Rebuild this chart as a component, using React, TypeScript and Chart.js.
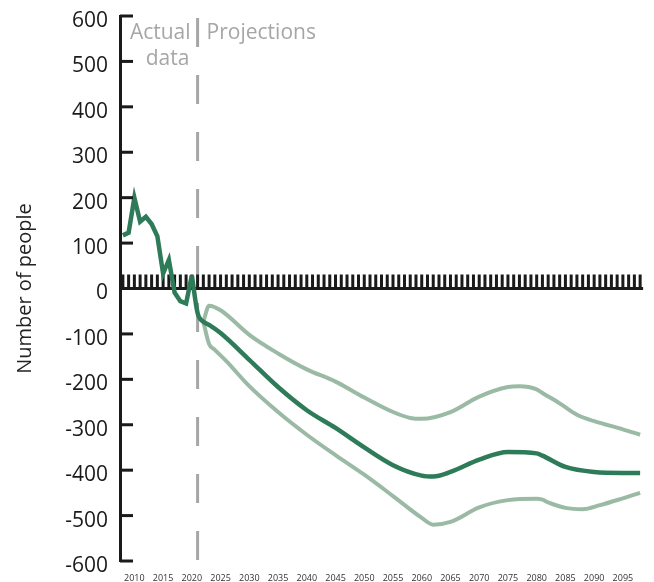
import React, { useEffect, useRef } from "react";
import { Chart, registerables } from "chart.js";

Chart.register(...registerables);

// Recorded net change, 2008–2020
const actualYears = [2008, 2009, 2010, 2011, 2012, 2013, 2014, 2015, 2016, 2017, 2018, 2019, 2020];
const actualValues = [117, 123, 200, 147, 158, 142, 115, 33, 63, -9, -28, -33, 29];

// Central projection (joins the recorded series at 2020)
const centralYears = [2020, 2021, 2022, 2023, 2025, 2030, 2035, 2040, 2045, 2050, 2055, 2060, 2062, 2065, 2070, 2075, 2080, 2081, 2085, 2090, 2095, 2098];
const centralValues = [29, -54, -73, -80, -98, -157, -217, -268, -307, -350, -389, -412, -414, -404, -377, -360, -363, -368, -393, -404, -406, -406];

// High variant
const upperYears = [2022, 2023, 2025, 2030, 2035, 2040, 2045, 2050, 2055, 2058, 2060, 2065, 2070, 2075, 2077, 2080, 2081, 2084, 2087, 2090, 2095, 2098];
const upperValues = [-73, -38, -48, -102, -143, -178, -205, -240, -272, -285, -287, -272, -238, -217, -215, -222, -230, -253, -278, -292, -310, -322];

// Low variant
const lowerYears = [2022, 2023, 2024, 2026, 2030, 2035, 2040, 2045, 2050, 2055, 2060, 2062, 2065, 2070, 2075, 2080, 2081, 2082, 2085, 2088, 2091, 2095, 2098];
const lowerValues = [-73, -122, -135, -160, -215, -272, -322, -367, -410, -457, -505, -520, -514, -482, -466, -463, -465, -471, -483, -486, -477, -462, -450];

const xTickLabels = [2010, 2015, 2020, 2025, 2030, 2035, 2040, 2045, 2050, 2055, 2060, 2065, 2070, 2075, 2080, 2085, 2090, 2095];
const dividerYear = 2021;

const FONT = '"Open Sans", "DejaVu Sans", sans-serif';
const DARK_GREEN = "#2d7b58";
const LIGHT_GREEN = "#9bbaa5";
const GREY = "#a6a6a6";
const INK = "#1a1a1a";

const toPoints = (xs: number[], ys: number[]) => xs.map((x, i) => ({ x, y: ys[i] }));

const overlayPlugin = {
  id: "overlay",
  beforeDatasetsDraw(chart: any) {
    const { ctx, chartArea, scales } = chart;
    const x = scales.x;
    const y = scales.y;
    const y0 = y.getPixelForValue(0);
    ctx.save();
    // divider between recorded data and projections
    const xd = x.getPixelForValue(dividerYear);
    ctx.strokeStyle = GREY;
    ctx.lineWidth = 3;
    ctx.setLineDash([29, 28]);
    ctx.beginPath();
    ctx.moveTo(xd, chartArea.top + 2);
    ctx.lineTo(xd, chartArea.bottom);
    ctx.stroke();
    ctx.setLineDash([]);
    // zero line with a tick for every year
    const firstYear = actualYears[0];
    const lastYear = centralYears[centralYears.length - 1];
    ctx.fillStyle = INK;
    const xEnd = x.getPixelForValue(lastYear) + 3;
    ctx.fillRect(chartArea.left, y0 - 1.5, xEnd - chartArea.left, 3);
    for (let yr = firstYear; yr <= lastYear; yr++) {
      const px = x.getPixelForValue(yr);
      ctx.fillRect(px - 1.5, y0 - 14, 3, 14);
    }
    ctx.restore();
  },
  afterDraw(chart: any) {
    const { ctx, chartArea, scales } = chart;
    const x = scales.x;
    const y = scales.y;
    ctx.save();
    // inward tick marks on the value axis
    ctx.fillStyle = INK;
    y.ticks.forEach((t: any) => {
      const py = y.getPixelForValue(t.value);
      ctx.fillRect(chartArea.left, py - 1.5, 13, 3);
    });
    // section headings
    const xd = x.getPixelForValue(dividerYear);
    ctx.fillStyle = GREY;
    ctx.font = `21px ${FONT}`;
    ctx.textBaseline = "middle";
    ctx.textAlign = "right";
    ctx.fillText("Actual", xd - 7, 33);
    ctx.textAlign = "center";
    ctx.fillText("data", xd - 30, 59);
    ctx.textAlign = "left";
    ctx.fillText("Projections", xd + 9, 33);
    ctx.restore();
  },
};

export default function App() {
  const canvasRef = useRef<HTMLCanvasElement | null>(null);

  useEffect(() => {
    if (!canvasRef.current) return;
    const chart = new Chart(canvasRef.current, {
      type: "line",
      data: {
        datasets: [
          {
            data: toPoints(actualYears, actualValues),
            borderColor: DARK_GREEN,
            borderWidth: 4.5,
            pointRadius: 0,
            tension: 0,
            borderJoinStyle: "miter",
          },
          {
            data: toPoints(centralYears, centralValues),
            borderColor: DARK_GREEN,
            borderWidth: 4.5,
            pointRadius: 0,
            cubicInterpolationMode: "monotone",
          },
          {
            data: toPoints(upperYears, upperValues),
            borderColor: LIGHT_GREEN,
            borderWidth: 4,
            pointRadius: 0,
            cubicInterpolationMode: "monotone",
          },
          {
            data: toPoints(lowerYears, lowerValues),
            borderColor: LIGHT_GREEN,
            borderWidth: 4,
            pointRadius: 0,
            cubicInterpolationMode: "monotone",
          },
        ],
      },
      options: {
        responsive: false,
        animation: false,
        events: [],
        layout: { padding: { top: 16, right: 11, bottom: 0, left: 0 } },
        plugins: { legend: { display: false }, tooltip: { enabled: false } },
        scales: {
          x: {
            type: "linear",
            min: 2007.5,
            max: 2098.5,
            afterBuildTicks: (scale: any) => {
              scale.ticks = xTickLabels.map((v) => ({ value: v }));
            },
            afterFit: (scale: any) => {
              scale.height = 21;
              scale.paddingLeft = 0;
              scale.paddingRight = 0;
            },
            grid: { display: false, drawTicks: false },
            border: { display: false },
            ticks: {
              autoSkip: false,
              maxRotation: 0,
              padding: 12,
              color: "#333333",
              font: { family: FONT, size: 9 },
              callback: (v: any) => String(v),
            },
          },
          y: {
            min: -600,
            max: 600,
            afterFit: (scale: any) => {
              scale.width = 120;
              scale.paddingTop = 0;
              scale.paddingBottom = 0;
            },
            grid: { display: false, drawTicks: false },
            border: { display: true, width: 3, color: INK },
            ticks: {
              stepSize: 100,
              padding: 12,
              labelOffset: 5,
              color: INK,
              font: { family: FONT, size: 21 },
              callback: (v: any) => String(v),
            },
            title: {
              display: true,
              text: "Number of people",
              color: "#222222",
              font: { family: FONT, size: 20 },
              padding: { top: 13, bottom: 0 },
            },
          },
        },
      },
      plugins: [overlayPlugin],
    });
    return () => chart.destroy();
  }, []);

  return (
    <div style={{ position: "fixed", left: 0, top: 0, width: 654, height: 582, background: "#ffffff" }}>
      <canvas ref={canvasRef} width={654} height={582} />
    </div>
  );
}
